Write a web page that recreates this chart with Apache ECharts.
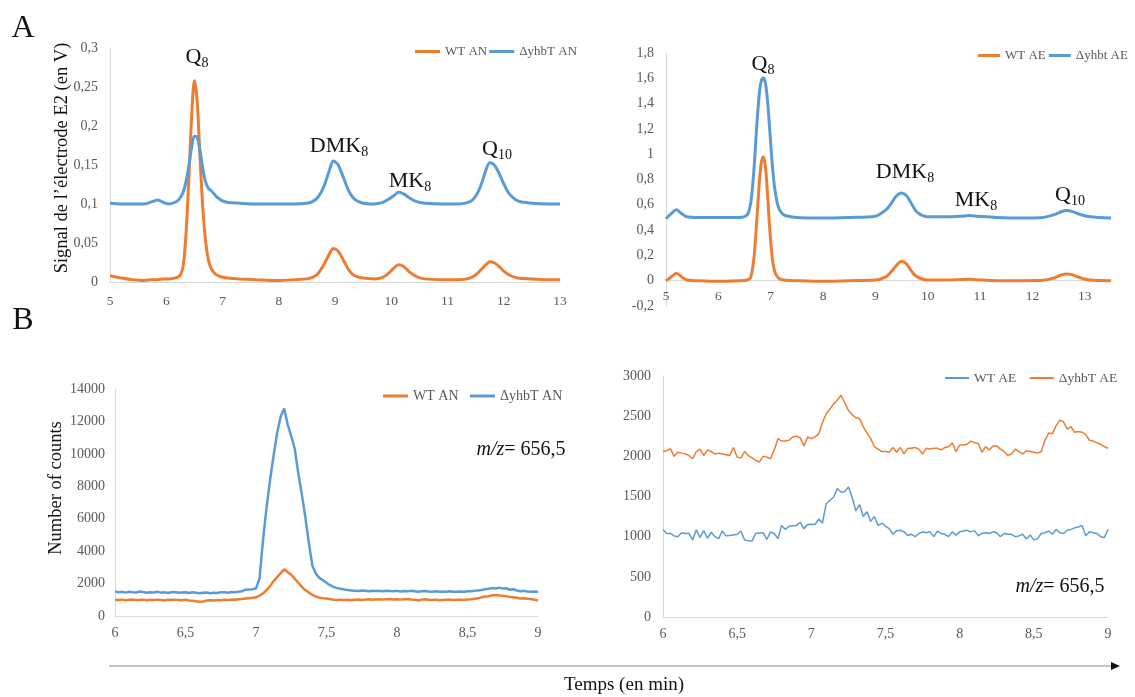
<!DOCTYPE html>
<html><head><meta charset="utf-8">
<script src="https://cdn.jsdelivr.net/npm/echarts@6/dist/echarts.min.js"></script>
<style>html,body{margin:0;padding:0;background:#fff}#c{width:1135px;height:697px}</style>
</head><body><div id="c"></div>
<script>
// ---------- data ----------
const aLeftTime = [5.0,5.2,5.4,5.6,5.75,5.85,5.95,6.05,6.15,6.2,6.25,6.3,6.35,6.4,6.45,6.5,6.55,6.6,6.65,6.7,6.75,6.8,6.85,6.9,7.0,7.1,7.3,7.6,8.0,8.3,8.5,8.6,8.7,8.8,8.9,8.97,9.05,9.15,9.25,9.35,9.5,9.7,9.85,9.95,10.05,10.13,10.22,10.32,10.45,10.6,10.9,11.2,11.4,11.5,11.6,11.68,11.75,11.82,11.9,12.0,12.1,12.25,12.5,12.8,13.0];
const aLeftWT = [0.008,0.005,0.003,0.002,0.003,0.003,0.004,0.004,0.005,0.006,0.009,0.02,0.06,0.13,0.21,0.258,0.232,0.16,0.095,0.052,0.028,0.017,0.012,0.009,0.006,0.005,0.004,0.003,0.002,0.003,0.004,0.006,0.011,0.022,0.036,0.043,0.04,0.028,0.015,0.008,0.005,0.004,0.006,0.011,0.018,0.022,0.02,0.013,0.007,0.004,0.003,0.003,0.005,0.009,0.016,0.022,0.026,0.025,0.021,0.014,0.009,0.005,0.004,0.003,0.003];
const aLeftKO = [0.101,0.1,0.1,0.1,0.103,0.105,0.102,0.1,0.102,0.104,0.108,0.115,0.128,0.148,0.172,0.187,0.186,0.168,0.145,0.128,0.12,0.117,0.113,0.109,0.104,0.102,0.101,0.1,0.1,0.1,0.101,0.103,0.109,0.122,0.143,0.155,0.151,0.134,0.116,0.106,0.101,0.1,0.102,0.106,0.111,0.115,0.113,0.108,0.103,0.101,0.1,0.1,0.103,0.11,0.125,0.143,0.153,0.151,0.142,0.126,0.113,0.104,0.101,0.1,0.1];

const aRightTime = [5.0,5.1,5.2,5.3,5.4,5.6,6.0,6.4,6.55,6.62,6.68,6.73,6.78,6.82,6.86,6.9,6.94,6.98,7.03,7.08,7.15,7.25,7.5,8.0,8.5,9.0,9.2,9.3,9.4,9.5,9.6,9.7,9.8,10.0,10.4,10.65,10.8,10.95,11.3,11.8,12.2,12.4,12.55,12.65,12.75,12.9,13.1,13.5];
const aRightWT = [0.0,0.03,0.058,0.03,0.005,0.0,-0.005,0.0,0.005,0.03,0.18,0.45,0.76,0.93,0.98,0.9,0.68,0.42,0.18,0.07,0.02,0.005,0.0,-0.005,0.0,0.005,0.03,0.07,0.12,0.153,0.13,0.07,0.03,0.005,0.005,0.01,0.012,0.008,0.0,0.0,0.003,0.02,0.045,0.053,0.048,0.025,0.005,0.0];
const aRightKO = [0.49,0.53,0.56,0.53,0.505,0.5,0.5,0.5,0.52,0.62,0.88,1.2,1.47,1.58,1.604,1.56,1.42,1.2,0.92,0.72,0.58,0.52,0.5,0.495,0.5,0.51,0.56,0.61,0.67,0.694,0.67,0.6,0.54,0.505,0.505,0.51,0.515,0.51,0.5,0.495,0.5,0.52,0.545,0.554,0.548,0.525,0.505,0.495];

const bTime = [6,6.025,6.05,6.075,6.1,6.125,6.15,6.175,6.2,6.225,6.25,6.275,6.3,6.325,6.35,6.375,6.4,6.425,6.45,6.475,6.5,6.525,6.55,6.575,6.6,6.625,6.65,6.675,6.7,6.725,6.75,6.775,6.8,6.825,6.85,6.875,6.9,6.925,6.95,6.975,7,7.025,7.05,7.075,7.1,7.125,7.15,7.175,7.2,7.225,7.25,7.275,7.3,7.325,7.35,7.375,7.4,7.425,7.45,7.475,7.5,7.525,7.55,7.575,7.6,7.625,7.65,7.675,7.7,7.725,7.75,7.775,7.8,7.825,7.85,7.875,7.9,7.925,7.95,7.975,8,8.025,8.05,8.075,8.1,8.125,8.15,8.175,8.2,8.225,8.25,8.275,8.3,8.325,8.35,8.375,8.4,8.425,8.45,8.475,8.5,8.525,8.55,8.575,8.6,8.625,8.65,8.675,8.7,8.725,8.75,8.775,8.8,8.825,8.85,8.875,8.9,8.925,8.95,8.975,9];

const bLeftKO = [1520,1470,1490,1440,1500,1460,1450,1510,1480,1440,1470,1450,1490,1440,1460,1420,1460,1480,1430,1450,1460,1420,1470,1440,1400,1430,1450,1400,1440,1420,1460,1470,1430,1480,1470,1500,1520,
1620,1640,1650,1700,2300,4700,6700,8400,9900,11300,12300,12800,11800,11100,10300,8800,7500,6100,4500,3100,2600,2350,2200,2050,1900,1800,1720,1680,1630,1600,1580,
1560,1540,1570,1550,1530,1560,1540,1550,1520,1560,1540,1530,1550,1510,1540,1520,1550,1530,1500,1520,1540,1510,1500,1530,1490,1510,1500,1520,1490,1500,1510,1490,1520,
1530,1550,1580,1600,1650,1680,1720,1700,1750,1690,1710,1620,1650,1570,1530,1550,1510,1500,1510,1500];
const bLeftWT = [1000,990,1010,970,1000,1020,980,990,1010,970,1000,980,1010,990,960,1000,980,1010,990,970,1000,960,940,910,880,900,950,970,960,990,970,1000,980,1010,1000,1030,1050,
1080,1100,1120,1150,1250,1400,1600,1850,2150,2400,2650,2880,2700,2550,2300,2050,1800,1600,1450,1300,1200,1130,1100,1080,1050,1000,980,1010,990,1000,970,
1000,1020,990,1010,1030,1000,1020,1040,1010,1030,1050,1020,1040,1010,1030,1050,1020,1000,960,1010,1030,1000,980,1010,970,990,1000,1010,980,1000,1010,990,1020,
1030,1060,1100,1150,1200,1220,1280,1300,1260,1250,1220,1180,1150,1120,1080,1090,1060,1050,1000,960];

const bRightWT = [1090,1040,1040,1010,1000,1050,1040,1040,960,1085,
990,1075,980,1055,1000,975,1070,1010,1015,1020,
1030,1070,960,950,945,1040,1045,1050,965,1060,
1040,975,1140,1090,1130,1135,1140,1180,1100,1150,
1155,1150,1220,1170,1410,1450,1490,1600,1555,1560,
1620,1490,1320,1400,1250,1310,1190,1250,1140,1170,
1130,1100,1030,1075,1080,1060,1015,1030,1000,1040,
1060,1050,1060,1000,1070,1040,1030,1000,1060,1020,
1060,1070,1080,1060,1075,1010,1040,1050,1040,1060,
1050,1000,1040,1030,1030,1000,1010,1030,970,1020,
960,975,1040,1050,1070,1030,1090,1050,1040,1080,
1090,1110,1120,1140,1010,1060,1050,1040,1000,990,
1090];
const bRightKO = [2060,2070,2095,2000,2050,2040,2030,2010,1970,2060,
2090,2010,2080,2060,2030,2040,2030,2020,2010,2110,
1990,1980,2060,2010,1980,1950,1930,2000,1990,1970,
2080,2220,2190,2190,2200,2240,2250,2230,2130,2240,
2220,2240,2280,2420,2530,2590,2650,2700,2760,2670,
2570,2520,2480,2470,2370,2290,2220,2120,2090,2060,
2060,2050,2110,2050,2110,2030,2100,2100,2110,2090,
2030,2100,2090,2100,2100,2080,2110,2120,2170,2060,
2140,2140,2150,2190,2170,2160,2050,2120,2080,2130,
2130,2090,2060,2010,2030,2090,2060,2030,2070,2060,
2050,2040,2060,2200,2290,2280,2380,2450,2430,2340,
2370,2300,2310,2300,2270,2200,2190,2170,2150,2120,
2100];

// tick values
const aLeftXTicks = [5,6,7,8,9,10,11,12,13];
const aLeftYTicks = [0,0.05,0.1,0.15,0.2,0.25,0.3];
const aRightXTicks = [5,6,7,8,9,10,11,12,13];
const aRightXMax = 13.5;
const aRightYTicks = [-0.2,0,0.2,0.4,0.6,0.8,1,1.2,1.4,1.6,1.8];
const bXTicks = [6,6.5,7,7.5,8,8.5,9];
const bLeftYTicks = [0,2000,4000,6000,8000,10000,12000,14000];
const bRightYTicks = [0,500,1000,1500,2000,2500,3000];

// ---------- chart ----------
const FONT = '"Liberation Serif","Times New Roman",serif';
const ORANGE = '#ED7D31', BLUE = '#5B9BD5';
const AX = '#d9d9d9', LBL = '#595959';
function pairs(t, v) { return t.map((x, i) => [x, v[i]]); }
function fmt(v) { return String(Math.round(v * 1000) / 1000).replace('.', ','); }

function xAx(gi, ticks, fs, margin, maxOverride, offset) {
  return {
    type: 'value', gridIndex: gi, position: 'bottom', offset: offset || 0, min: ticks[0],
    max: maxOverride != null ? maxOverride : ticks[ticks.length - 1],
    interval: ticks[1] - ticks[0],
    axisLine: { show: true, onZero: false, lineStyle: { color: AX, width: 1 } },
    axisTick: { show: false }, splitLine: { show: false },
    axisLabel: { fontFamily: FONT, fontSize: fs, color: LBL, margin: margin, formatter: fmt,
      showMaxLabel: maxOverride == null, showMinLabel: true, hideOverlap: false }
  };
}
function yAx(gi, ticks, fs, margin) {
  return {
    type: 'value', gridIndex: gi, min: ticks[0], max: ticks[ticks.length - 1],
    interval: ticks[1] - ticks[0],
    axisLine: { show: true, onZero: false, lineStyle: { color: AX, width: 1 } },
    axisTick: { show: false }, splitLine: { show: false },
    axisLabel: { fontFamily: FONT, fontSize: fs, color: LBL, margin: margin, formatter: fmt, hideOverlap: false }
  };
}
function ser(name, gi, t, v, color, width, smooth) {
  return { type: 'line', name: name, xAxisIndex: gi, yAxisIndex: gi, data: pairs(t, v),
    symbol: 'none', showSymbol: false, smooth: smooth, color: color,
    lineStyle: { color: color, width: width }, itemStyle: { color: color } };
}
function leg(left, top, names, fs, iw, ih, gap) {
  return { left: left, top: top, padding: 0, data: names, icon: 'rect', itemWidth: iw, itemHeight: ih,
    itemGap: gap, selectedMode: false, textStyle: { fontFamily: FONT, fontSize: fs, color: LBL } };
}
function sub(text, x, y, main, subTxt) {
  return { type: 'text', x: x, y: y, silent: true,
    style: { text: '{b|' + main + '}{s|' + subTxt + '}', align: 'center', verticalAlign: 'middle',
      rich: {
        b: { fontFamily: FONT, fontSize: 22, lineHeight: 26, fill: '#111', verticalAlign: 'middle' },
        s: { fontFamily: FONT, fontSize: 14, lineHeight: 14, fill: '#111', verticalAlign: 'bottom', padding: [12, 0, 0, 0] }
      } } };
}
function mz(x, y) {
  return { type: 'text', x: x, y: y, silent: true,
    style: { text: '{i|m/z}{n|= 656,5}', align: 'center', verticalAlign: 'middle',
      rich: {
        i: { fontFamily: FONT, fontSize: 20, fontStyle: 'italic', fill: '#111' },
        n: { fontFamily: FONT, fontSize: 20, fill: '#111' }
      } } };
}
function txt(t, x, y, fs, rot) {
  return { type: 'text', x: x, y: y, rotation: rot || 0, silent: true,
    style: { text: t, fontFamily: FONT, fontSize: fs, fill: '#111', align: 'center', verticalAlign: 'middle' } };
}

const chart = echarts.init(document.getElementById('c'), null, { renderer: 'canvas' });
chart.setOption({
  animation: false,
  backgroundColor: '#ffffff',
  grid: [
    { left: 110, top: 48, width: 450, height: 234, outerBoundsMode: 'none' },
    { left: 666, top: 53, width: 445, height: 253, outerBoundsMode: 'none' },
    { left: 115, top: 389, width: 423, height: 227, outerBoundsMode: 'none' },
    { left: 663, top: 376, width: 445, height: 241, outerBoundsMode: 'none' }
  ],
  xAxis: [
    xAx(0, aLeftXTicks, 13.5, 12),
    xAx(1, aRightXTicks, 13.5, 9, aRightXMax, -26),
    xAx(2, bXTicks, 14, 10),
    xAx(3, bXTicks, 14, 10)
  ],
  yAxis: [
    yAx(0, aLeftYTicks, 14, 12),
    yAx(1, aRightYTicks, 14, 12),
    yAx(2, bLeftYTicks, 14, 10),
    yAx(3, bRightYTicks, 14, 12)
  ],
  legend: [
    leg(415, 45, ['WT AN', 'ΔyhbT AN'], 13, 25, 3, 2),
    leg(978, 49, ['WT AE', 'Δyhbt AE'], 13, 22, 3, 3),
    leg(383, 389, ['WT AN ', 'ΔyhbT AN '], 14, 25, 3, 8),
    leg(945, 371, ['WT AE ', 'ΔyhbT AE'], 13.5, 24, 2, 10)
  ],
  series: [
    ser('WT AN', 0, aLeftTime, aLeftWT, ORANGE, 3, 0.3),
    ser('ΔyhbT AN', 0, aLeftTime, aLeftKO, BLUE, 3, 0.3),
    ser('WT AE', 1, aRightTime, aRightWT, ORANGE, 3, 0.3),
    ser('Δyhbt AE', 1, aRightTime, aRightKO, BLUE, 3, 0.3),
    ser('WT AN ', 2, bTime, bLeftWT, ORANGE, 2.5, false),
    ser('ΔyhbT AN ', 2, bTime, bLeftKO, BLUE, 2.5, false),
    ser('WT AE ', 3, bTime, bRightWT, BLUE, 1.5, false),
    ser('ΔyhbT AE', 3, bTime, bRightKO, ORANGE, 1.5, false)
  ],
  graphic: [
    txt('A', 23, 29, 32),
    txt('B', 23, 321, 32),
    txt('Signal de l’électrode E2 (en V)', 62, 158, 18.5, Math.PI / 2),
    txt('Number of counts', 56, 488, 18.5, Math.PI / 2),
    sub('q8l', 197, 57, 'Q', '8'),
    sub('dmk8l', 339, 146, 'DMK', '8'),
    sub('mk8l', 410, 181, 'MK', '8'),
    sub('q10l', 497, 149, 'Q', '10'),
    sub('q8r', 763, 64, 'Q', '8'),
    sub('dmk8r', 905, 172, 'DMK', '8'),
    sub('mk8r', 976, 200, 'MK', '8'),
    sub('q10r', 1070, 195, 'Q', '10'),
    mz(521, 450),
    mz(1060, 587),
    { type: 'line', silent: true, shape: { x1: 109, y1: 666, x2: 1113, y2: 666 },
      style: { stroke: '#c4c4c4', lineWidth: 2 } },
    { type: 'polygon', silent: true, shape: { points: [[1111, 662], [1120, 666], [1111, 670]] },
      style: { fill: '#111' } },
    txt('Temps (en min)', 624, 685, 19)
  ]
});
</script>
</body></html>
